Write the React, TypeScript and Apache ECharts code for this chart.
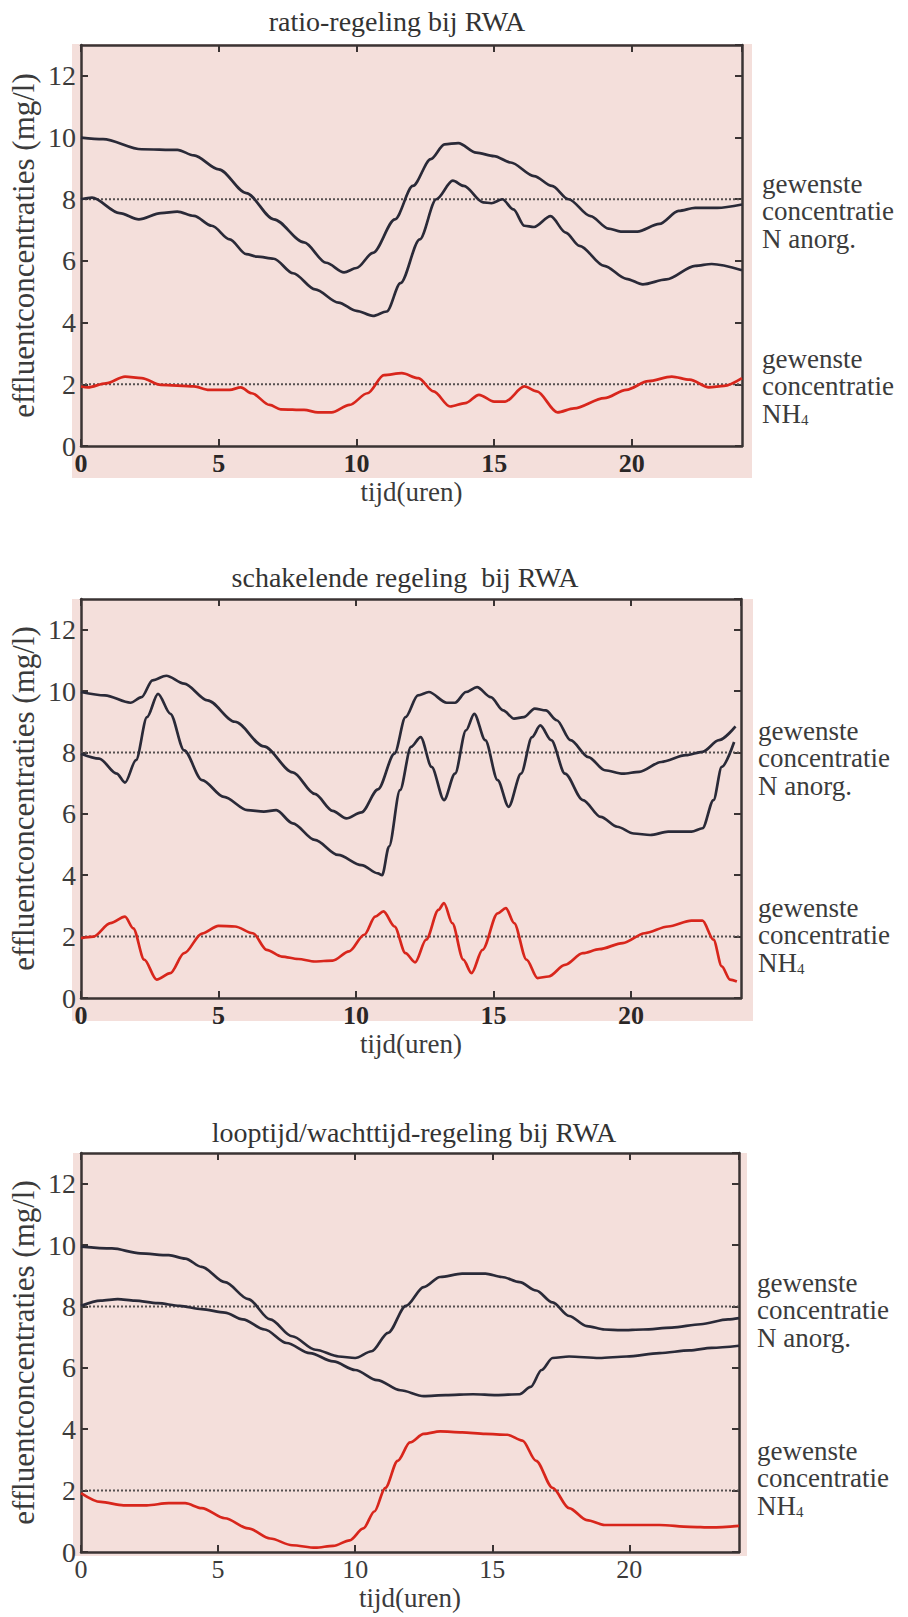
import React, { useEffect, useRef } from "react";
import * as echarts from "echarts";

// ---------- data (hours, mg/l) ----------
const xTicks = [0, 5, 10, 15, 20];
const targetN = 8;
const targetNH4 = 2;

const p1Upper: number[][] = [[0,10.0],[0.8,9.95],[2.2,9.62],[3.5,9.6],[4.1,9.42],[5.0,8.97],[6.0,8.2],[7.0,7.35],[8.1,6.6],[8.9,5.94],[9.55,5.63],[10.0,5.77],[10.6,6.26],[11.4,7.35],[12.05,8.43],[12.7,9.3],[13.2,9.78],[13.7,9.82],[14.35,9.51],[15.0,9.4],[15.6,9.19],[16.45,8.75],[17.1,8.43],[17.7,8.0],[18.5,7.45],[19.15,7.05],[19.6,6.95],[20.2,6.95],[21.0,7.2],[21.7,7.62],[22.3,7.72],[23.1,7.72],[24,7.83]];
const p1Lower: number[][] = [[0,8.0],[0.4,8.05],[1.4,7.55],[2.1,7.35],[2.9,7.55],[3.5,7.6],[4.1,7.46],[4.75,7.14],[5.4,6.7],[6.0,6.22],[6.4,6.14],[7.0,6.07],[7.7,5.6],[8.5,5.08],[9.35,4.65],[10.0,4.38],[10.6,4.22],[11.1,4.36],[11.6,5.28],[12.3,6.7],[12.9,8.0],[13.5,8.6],[13.9,8.43],[14.6,7.9],[14.9,7.87],[15.3,8.0],[15.7,7.67],[16.1,7.14],[16.45,7.1],[17.05,7.45],[17.6,6.92],[18.1,6.49],[19.0,5.84],[19.8,5.42],[20.4,5.24],[21.25,5.4],[22.3,5.84],[22.9,5.9],[24,5.7]];
const p1Nh4: number[][] = [[0,1.93],[0.25,1.9],[0.9,2.03],[1.6,2.25],[2.2,2.2],[2.9,1.98],[4.1,1.93],[4.65,1.82],[5.4,1.82],[5.8,1.9],[6.2,1.71],[6.85,1.33],[7.25,1.19],[8.1,1.17],[8.6,1.09],[9.1,1.09],[9.75,1.33],[10.4,1.71],[11.0,2.3],[11.65,2.36],[12.25,2.2],[12.8,1.77],[13.4,1.28],[13.95,1.39],[14.45,1.66],[15.0,1.44],[15.4,1.44],[16.1,1.93],[16.55,1.77],[17.3,1.09],[17.9,1.22],[19.0,1.55],[19.8,1.82],[20.6,2.1],[21.45,2.25],[22.1,2.15],[22.8,1.9],[23.35,1.95],[24,2.2]];

const p2Upper: number[][] = [[0,9.97],[0.87,9.86],[1.8,9.62],[2.2,9.8],[2.6,10.35],[3.1,10.5],[3.75,10.24],[4.6,9.7],[5.6,9.0],[6.65,8.2],[7.7,7.35],[8.5,6.65],[9.15,6.1],[9.65,5.85],[10.2,6.05],[10.8,6.8],[11.4,7.96],[11.8,9.15],[12.25,9.86],[12.65,9.97],[13.3,9.62],[13.6,9.62],[14.0,9.97],[14.4,10.13],[14.9,9.8],[15.35,9.37],[15.75,9.1],[16.1,9.15],[16.5,9.43],[16.9,9.37],[17.3,9.05],[17.8,8.4],[18.45,7.85],[19.05,7.42],[19.7,7.31],[20.3,7.37],[21.1,7.69],[22.0,7.91],[22.6,8.02],[23.2,8.4],[23.8,8.85]];
const p2Lower: number[][] = [[0,7.96],[0.66,7.8],[1.3,7.31],[1.6,7.02],[2.0,7.75],[2.4,9.15],[2.8,9.91],[3.25,9.26],[3.75,8.07],[4.4,7.1],[5.2,6.55],[6.05,6.12],[6.65,6.07],[7.1,6.12],[7.7,5.69],[8.5,5.15],[9.35,4.66],[10.2,4.33],[10.8,4.06],[10.95,4.0],[11.2,4.93],[11.6,6.77],[12.0,8.18],[12.35,8.5],[12.75,7.53],[13.2,6.45],[13.6,7.31],[14.0,8.72],[14.3,9.26],[14.7,8.4],[15.15,7.1],[15.55,6.23],[16.0,7.31],[16.4,8.5],[16.7,8.88],[17.1,8.4],[17.6,7.31],[18.25,6.45],[18.9,5.9],[19.5,5.58],[20.1,5.36],[20.7,5.31],[21.35,5.42],[22.2,5.42],[22.6,5.53],[23.0,6.45],[23.3,7.53],[23.75,8.34]];
const p2Nh4: number[][] = [[0,1.95],[0.45,2.0],[1.07,2.44],[1.6,2.65],[1.9,2.27],[2.3,1.25],[2.75,0.6],[3.25,0.81],[3.75,1.46],[4.4,2.1],[5.0,2.35],[5.6,2.33],[6.25,2.11],[6.75,1.57],[7.3,1.35],[7.9,1.27],[8.5,1.19],[9.15,1.22],[9.75,1.52],[10.3,2.06],[10.7,2.65],[11.0,2.82],[11.4,2.33],[11.8,1.46],[12.15,1.16],[12.55,1.9],[13.0,2.87],[13.2,3.09],[13.5,2.44],[13.9,1.25],[14.2,0.81],[14.6,1.57],[15.15,2.76],[15.45,2.93],[15.75,2.44],[16.2,1.25],[16.6,0.65],[17.0,0.7],[17.6,1.08],[18.25,1.46],[18.85,1.59],[19.7,1.79],[20.5,2.11],[21.35,2.33],[22.2,2.52],[22.6,2.52],[23.0,1.9],[23.3,1.03],[23.6,0.6],[23.85,0.54]];

const p3Upper: number[][] = [[0,9.95],[1.13,9.89],[2.16,9.73],[3.2,9.67],[3.8,9.56],[4.4,9.29],[5.25,8.79],[6.1,8.24],[6.9,7.58],[7.7,7.03],[8.55,6.59],[9.4,6.37],[10.0,6.32],[10.6,6.54],[11.2,7.14],[11.85,8.02],[12.5,8.63],[13.1,8.96],[13.9,9.07],[14.75,9.07],[15.35,8.96],[16.0,8.79],[16.6,8.52],[17.2,8.13],[17.8,7.69],[18.45,7.36],[19.1,7.25],[19.7,7.23],[20.5,7.25],[21.55,7.31],[22.6,7.42],[23.6,7.58],[24,7.62]];
const p3Lower: number[][] = [[0,8.02],[0.72,8.19],[1.34,8.24],[1.96,8.19],[2.8,8.11],[3.6,8.02],[4.4,7.91],[5.25,7.8],[5.9,7.58],[6.7,7.25],[7.5,6.81],[8.35,6.48],[9.2,6.21],[10.0,5.93],[10.8,5.6],[11.65,5.27],[12.5,5.08],[13.3,5.11],[14.3,5.14],[15.15,5.11],[16.0,5.14],[16.4,5.38],[16.8,5.93],[17.2,6.32],[17.8,6.37],[18.9,6.32],[19.9,6.37],[21.1,6.48],[22.2,6.57],[23.0,6.65],[24,6.72]];
const p3Nh4: number[][] = [[0,1.92],[0.72,1.63],[1.55,1.52],[2.4,1.52],[3.2,1.59],[3.8,1.59],[4.4,1.43],[5.25,1.1],[6.1,0.77],[6.9,0.44],[7.7,0.22],[8.55,0.14],[9.2,0.2],[9.8,0.38],[10.3,0.77],[10.7,1.32],[11.1,2.09],[11.55,2.97],[12.0,3.57],[12.5,3.85],[13.1,3.93],[13.9,3.9],[14.75,3.85],[15.55,3.82],[16.1,3.63],[16.6,2.97],[17.2,2.09],[17.8,1.43],[18.45,1.04],[19.1,0.88],[20.1,0.88],[21.1,0.88],[22.2,0.82],[23.0,0.8],[24,0.85]];

const titles = [
  "ratio-regeling bij RWA",
  "schakelende regeling  bij RWA",
  "looptijd/wachttijd-regeling bij RWA",
];

// ---------- styling ----------
const SERIF = "'Liberation Serif', 'Times New Roman', Times, serif";
const INK = "#3b3b3b";
const BORDER = "#3a3333";
const BLACK = "#2a2a38";
const RED = "#d8261c";
const PINK = "#f4dfdb";
const DOT = "#555050";

const layout = [
  { grid: { left: 77, top: 45, width: 665, height: 401 }, titleX: 397, titleY: 21, pink: [72, 44, 680, 434], nY: 211, hY: 386, labX: 762, boldX: true },
  { grid: { left: 75, top: 599, width: 666, height: 399 }, titleX: 405, titleY: 577, pink: [72, 599, 681, 422], nY: 758, hY: 935, labX: 758, boldX: true },
  { grid: { left: 73, top: 1153, width: 666, height: 399 }, titleX: 414, titleY: 1132, pink: [73, 1153, 674, 403], nY: 1310, hY: 1478, labX: 757, boldX: false },
];

const panelData = [
  [p1Upper, p1Lower, p1Nh4],
  [p2Upper, p2Lower, p2Nh4],
  [p3Upper, p3Lower, p3Nh4],
];

export default function App() {
  const ref = useRef<HTMLDivElement>(null);

  useEffect(() => {
    if (!ref.current) return;
    const chart = echarts.init(ref.current, undefined, { renderer: "svg" });

    const grids: any[] = [];
    const xAxes: any[] = [];
    const yAxes: any[] = [];
    const series: any[] = [];
    const graphic: any[] = [];

    const axisLine = { show: true, onZero: false, lineStyle: { color: BORDER, width: 2.5 } };
    const axisTick = { show: true, inside: true, length: 7, lineStyle: { color: BORDER, width: 2 } };

    layout.forEach((L, i) => {
      grids.push({ ...L.grid, containLabel: false });
      const xBase = { type: "value", gridIndex: i, min: 0, max: 24, interval: 5, splitLine: { show: false }, axisLine, axisTick };
      xAxes.push({
        ...xBase,
        position: "bottom",
        axisLabel: {
          show: true, margin: 4, fontSize: 26, lineHeight: 26, fontFamily: SERIF,
          color: L.boldX ? "#2a2626" : INK, fontWeight: L.boldX ? "bold" : "normal",
          showMaxLabel: false,
          formatter: (v: number) => (xTicks.indexOf(v) >= 0 ? String(v) : ""),
        },
        name: "tijd(uren)", nameLocation: "middle", nameGap: 32, nameMoveOverlap: false,
        nameTextStyle: { fontSize: 27, lineHeight: 27, fontFamily: SERIF, color: INK },
      });
      xAxes.push({ ...xBase, position: "top", axisLabel: { show: false } });
      const yBase = { type: "value", gridIndex: i, min: 0, max: 13, interval: 2, splitLine: { show: false }, axisLine, axisTick };
      yAxes.push({
        ...yBase,
        position: "left",
        axisLabel: { show: true, margin: 5, fontSize: 28, fontFamily: SERIF, color: INK, showMaxLabel: false },
        name: "effluentconcentraties (mg/l)", nameLocation: "middle", nameGap: 42, nameMoveOverlap: false,
        nameTextStyle: { fontSize: 31, fontFamily: SERIF, color: INK },
      });
      yAxes.push({ ...yBase, position: "right", axisLabel: { show: false } });

      const xi = i * 2;
      const yi = i * 2;
      const [up, low, nh4] = panelData[i];
      const lineBase = { type: "line", xAxisIndex: xi, yAxisIndex: yi, showSymbol: false, symbol: "none", smooth: 0.3, smoothMonotone: "x", z: 3 };
      series.push({ ...lineBase, name: "N totaal " + (i + 1), data: up, lineStyle: { color: BLACK, width: 2.7 } });
      series.push({ ...lineBase, name: "N anorg. " + (i + 1), data: low, lineStyle: { color: BLACK, width: 2.7 } });
      series.push({ ...lineBase, name: "NH4 " + (i + 1), data: nh4, lineStyle: { color: RED, width: 2.7 } });
      [targetN, targetNH4].forEach((t) => {
        series.push({
          type: "line", xAxisIndex: xi, yAxisIndex: yi, showSymbol: false, symbol: "none", z: 2,
          data: [[0, t], [24, t]],
          lineStyle: { color: DOT, width: 2, type: [2, 2] },
        });
      });

      const [px, py, pw, ph] = L.pink;
      graphic.push({ type: "rect", z: -100, shape: { x: px, y: py, width: pw, height: ph }, style: { fill: PINK } });
      graphic.push({
        type: "text", x: L.titleX, y: L.titleY,
        style: { text: titles[i], fontSize: 28, fontFamily: SERIF, fill: "#333", align: "center", verticalAlign: "middle" },
      });
      const labStyle = { fontSize: 27, fontFamily: SERIF, fill: INK, align: "left", verticalAlign: "middle" };
      const step = 27.5;
      graphic.push({ type: "text", x: L.labX, y: L.nY - step, style: { ...labStyle, text: "gewenste" } });
      graphic.push({ type: "text", x: L.labX, y: L.nY, style: { ...labStyle, text: "concentratie" } });
      graphic.push({ type: "text", x: L.labX, y: L.nY + step, style: { ...labStyle, text: "N anorg." } });
      graphic.push({ type: "text", x: L.labX, y: L.hY - step, style: { ...labStyle, text: "gewenste" } });
      graphic.push({ type: "text", x: L.labX, y: L.hY, style: { ...labStyle, text: "concentratie" } });
      graphic.push({
        type: "text", x: L.labX, y: L.hY + step,
        style: {
          ...labStyle, text: "NH{s|4}", lineHeight: 28,
          rich: { s: { fontSize: 15, fontFamily: SERIF, fill: INK, verticalAlign: "bottom", lineHeight: 28 } },
        },
      });
    });

    chart.setOption({
      animation: false,
      backgroundColor: "#ffffff",
      grid: grids,
      xAxis: xAxes,
      yAxis: yAxes,
      series,
      graphic,
    });

    return () => chart.dispose();
  }, []);

  return (
    <div
      ref={ref}
      style={{ position: "absolute", left: 0, top: 0, width: 908, height: 1617 }}
    />
  );
}
